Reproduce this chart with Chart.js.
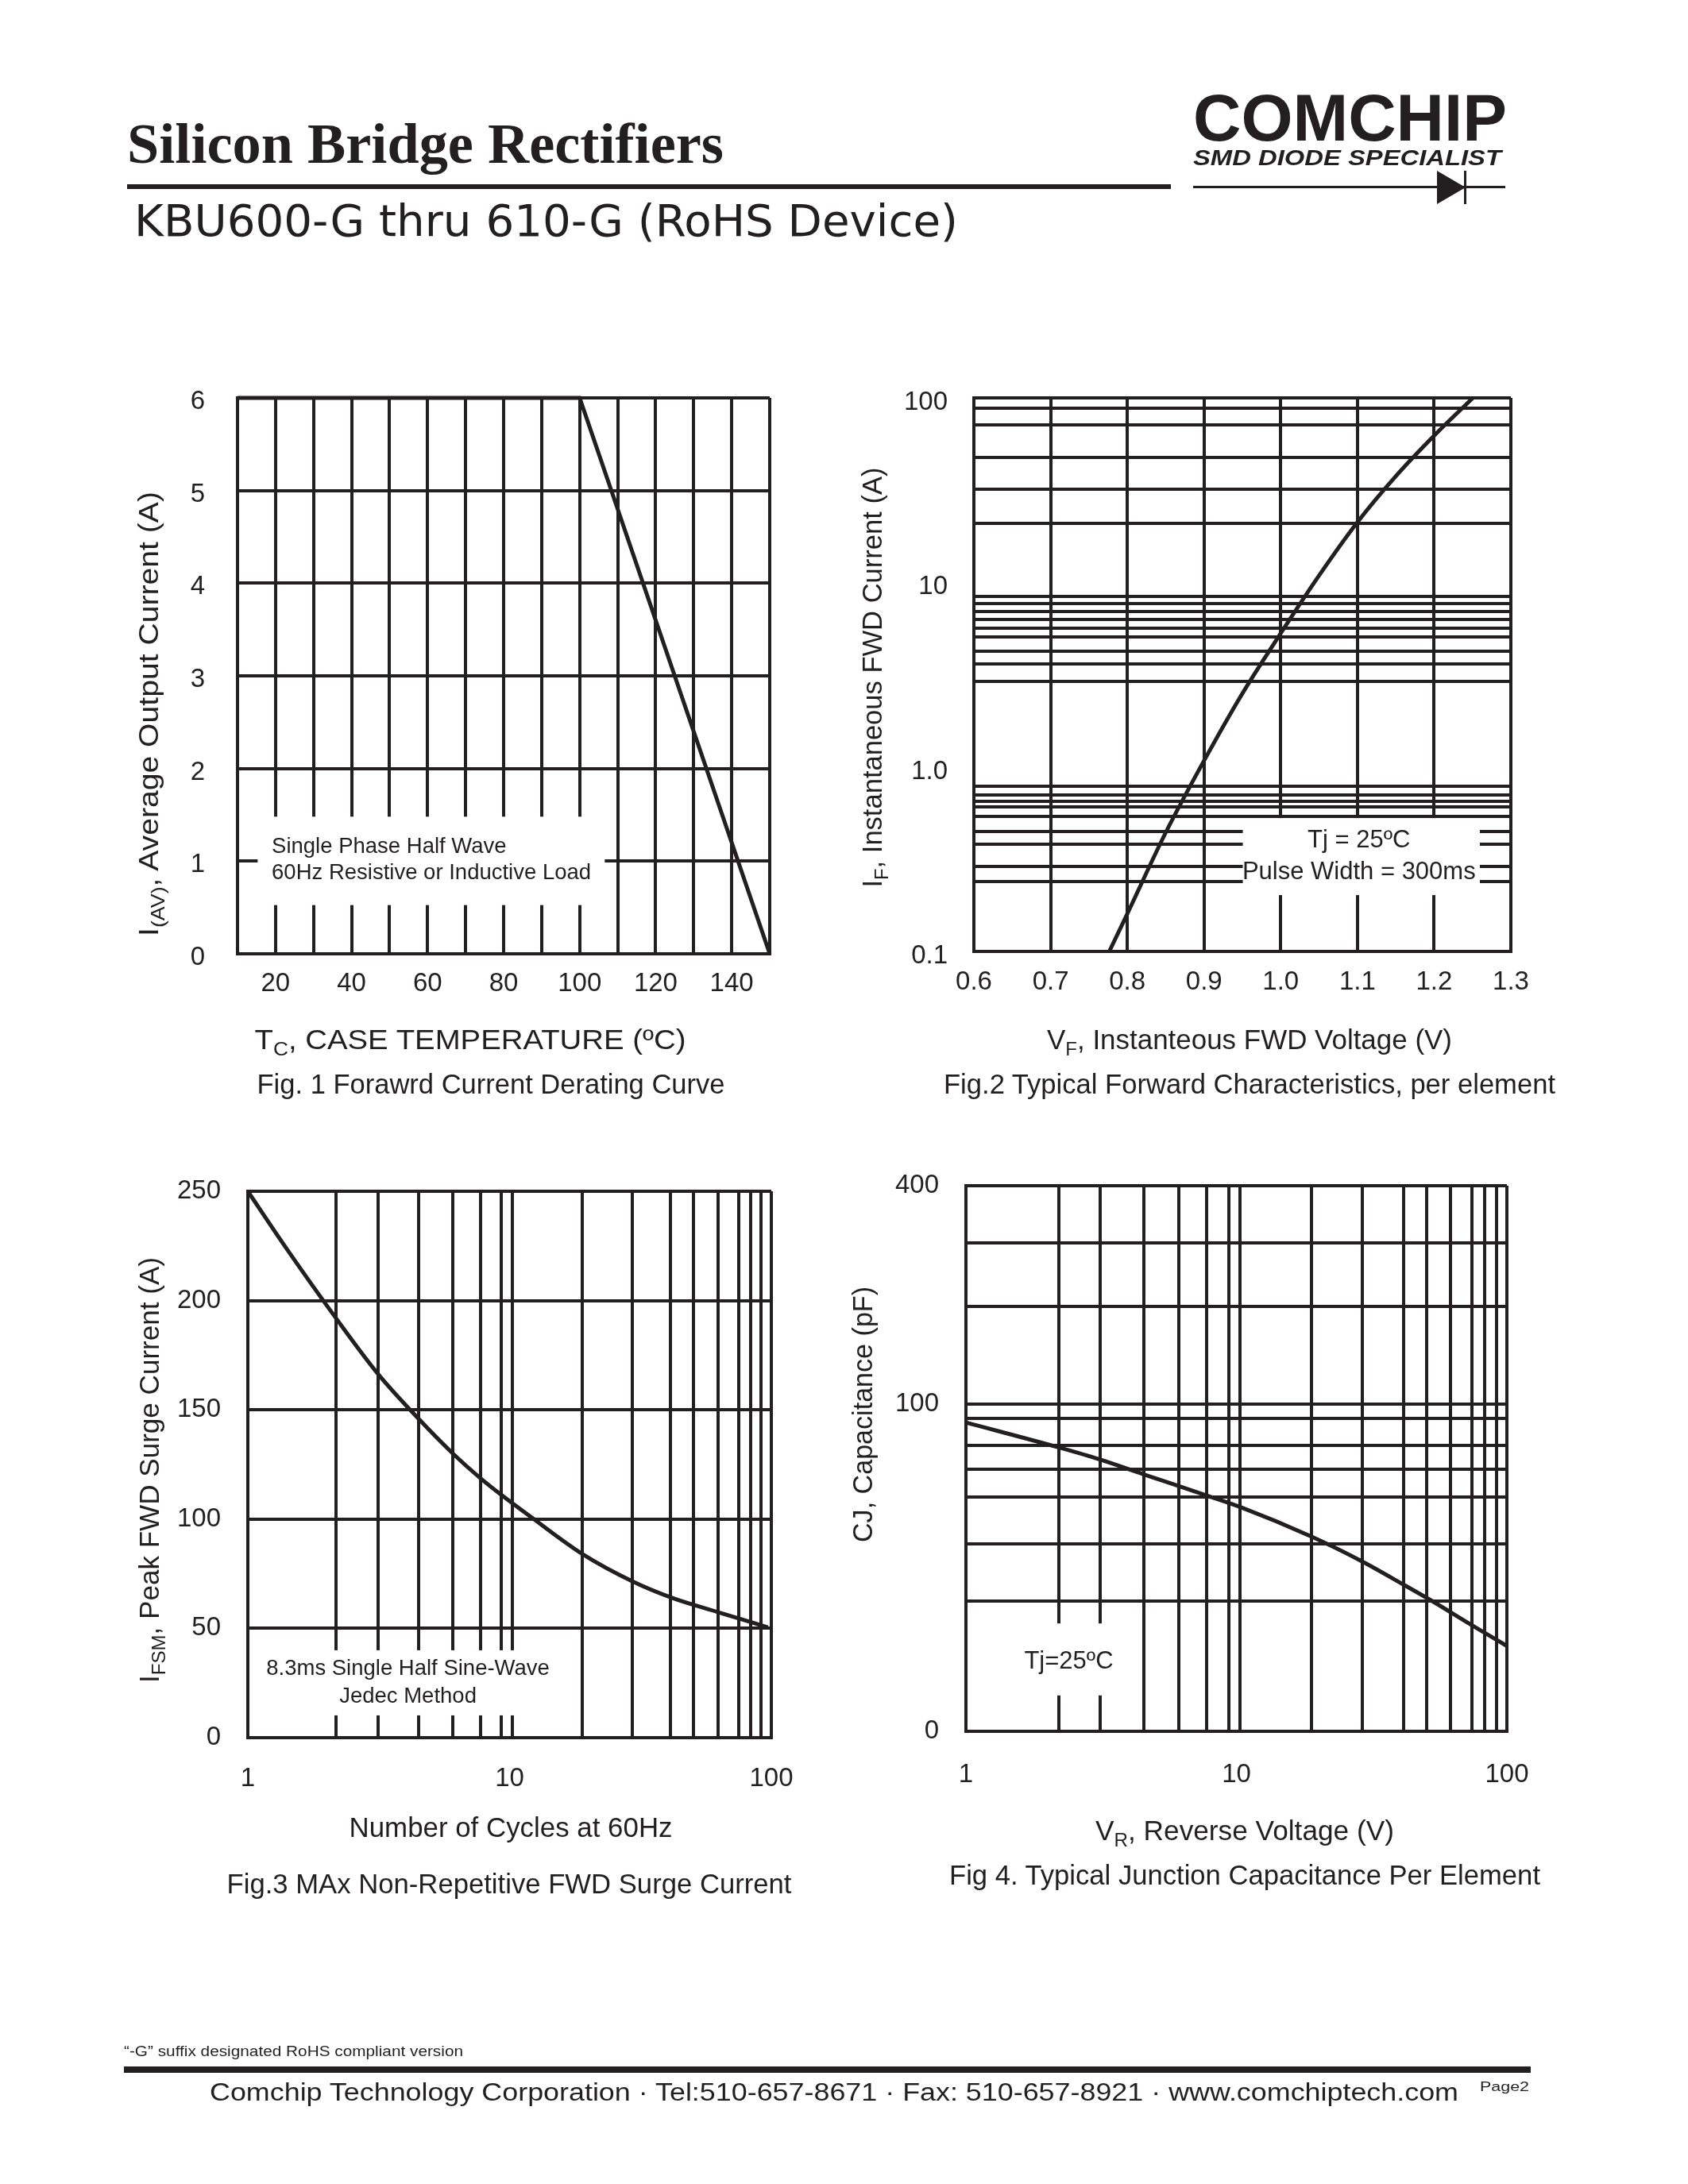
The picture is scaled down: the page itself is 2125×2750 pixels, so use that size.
<!DOCTYPE html>
<html>
<head>
<meta charset="utf-8">
<title>KBU600-G thru 610-G</title>
<script src="https://cdn.jsdelivr.net/npm/chart.js@4/dist/chart.umd.min.js"></script>
<style>
  body { margin: 0; background: #fff; }
  #page { position: relative; width: 2125px; height: 2750px; background: #fff; overflow: hidden; }
  .plot { position: absolute; }
  #ink { position: absolute; left: 0; top: 0; pointer-events: none; }
  #ink text { font-family: "Liberation Sans", Arial, sans-serif; fill: #231f20; }
</style>
</head>
<body>
<div id="page">
  <div class="plot" id="fig1"><canvas></canvas></div>
  <div class="plot" id="fig2"><canvas></canvas></div>
  <div class="plot" id="fig3"><canvas></canvas></div>
  <div class="plot" id="fig4"><canvas></canvas></div>

  <svg id="ink" width="2125" height="2750" fill="#231f20">
    <!-- header -->
    <text x="160" y="205" style="font-family:'Liberation Serif',serif" font-weight="bold" font-size="72" textLength="751" lengthAdjust="spacingAndGlyphs">Silicon Bridge Rectifiers</text>
    <rect x="160" y="232" width="1314" height="6"/>
    <text x="1502" y="177" font-weight="bold" font-size="84" textLength="395" lengthAdjust="spacingAndGlyphs">COMCHIP</text>
    <text x="1502" y="208" font-weight="bold" font-style="italic" font-size="28" textLength="388" lengthAdjust="spacingAndGlyphs">SMD DIODE SPECIALIST</text>
    <rect x="1502" y="234" width="393" height="3"/>
    <polygon points="1809,215 1845,236 1809,257"/>
    <rect x="1843" y="215" width="3" height="42"/>
    <text x="169" y="297" style="font-family:'DejaVu Sans',sans-serif" font-size="56" textLength="1037" lengthAdjust="spacingAndGlyphs">KBU600-G thru 610-G (RoHS Device)</text>

    <!-- fig 1 -->
    <text transform="translate(187,899) rotate(-90)" y="12" text-anchor="middle" font-size="35" textLength="560" lengthAdjust="spacingAndGlyphs">I<tspan font-size="24" dy="8">(AV)</tspan><tspan dy="-8">, Average Output Current (A)</tspan></text>
    <text x="592" y="1321" text-anchor="middle" font-size="35" textLength="543" lengthAdjust="spacingAndGlyphs">T<tspan font-size="24" dy="8">C</tspan><tspan dy="-8">, CASE TEMPERATURE (ºC)</tspan></text>
    <text x="618" y="1377" text-anchor="middle" font-size="35" textLength="589" lengthAdjust="spacingAndGlyphs">Fig. 1 Forawrd Current Derating Curve</text>

    <!-- fig 2 -->
    <text transform="translate(1098,853) rotate(-90)" y="12" text-anchor="middle" font-size="35" textLength="529" lengthAdjust="spacingAndGlyphs">I<tspan font-size="24" dy="8">F</tspan><tspan dy="-8">, Instantaneous FWD Current (A)</tspan></text>
    <text x="1573" y="1321" text-anchor="middle" font-size="35" textLength="510" lengthAdjust="spacingAndGlyphs">V<tspan font-size="24" dy="8">F</tspan><tspan dy="-8">, Instanteous FWD Voltage (V)</tspan></text>
    <text x="1573" y="1377" text-anchor="middle" font-size="35" textLength="770" lengthAdjust="spacingAndGlyphs">Fig.2 Typical Forward Characteristics, per element</text>

    <!-- fig 3 -->
    <text transform="translate(188,1851) rotate(-90)" y="12" text-anchor="middle" font-size="35" textLength="536" lengthAdjust="spacingAndGlyphs">I<tspan font-size="24" dy="8">FSM</tspan><tspan dy="-8">, Peak FWD Surge Current (A)</tspan></text>
    <text x="643" y="2313" text-anchor="middle" font-size="35" textLength="407" lengthAdjust="spacingAndGlyphs">Number of Cycles at 60Hz</text>
    <text x="641" y="2384" text-anchor="middle" font-size="35" textLength="711" lengthAdjust="spacingAndGlyphs">Fig.3 MAx Non-Repetitive FWD Surge Current</text>

    <!-- fig 4 -->
    <text transform="translate(1086,1781) rotate(-90)" y="12" text-anchor="middle" font-size="35" textLength="322" lengthAdjust="spacingAndGlyphs">CJ, Capacitance (pF)</text>
    <text x="1567" y="2317" text-anchor="middle" font-size="35" textLength="376" lengthAdjust="spacingAndGlyphs">V<tspan font-size="24" dy="8">R</tspan><tspan dy="-8">, Reverse Voltage (V)</tspan></text>
    <text x="1567" y="2373" text-anchor="middle" font-size="35" textLength="744" lengthAdjust="spacingAndGlyphs">Fig 4. Typical Junction Capacitance Per Element</text>

    <!-- footer -->
    <text x="156" y="2589" font-size="18" textLength="427" lengthAdjust="spacingAndGlyphs">“-G” suffix designated RoHS compliant version</text>
    <rect x="156" y="2602" width="1771" height="8"/>
    <text x="264" y="2645" font-size="31" textLength="1572" lengthAdjust="spacingAndGlyphs">Comchip Technology Corporation · Tel:510-657-8671 · Fax: 510-657-8921 · www.comchiptech.com</text>
    <text x="1863" y="2633" font-size="16" textLength="62" lengthAdjust="spacingAndGlyphs">Page2</text>
  </svg>
</div>

<script>
// ---- data ----
// Fig 1: derating
const fig1Temp = [10, 100, 150];
const fig1Current = [6, 6, 0];
const fig1GridX = [10, 20, 30, 40, 50, 60, 70, 80, 90, 100, 110, 120, 130, 140, 150];
const fig1LabelX = [20, 40, 60, 80, 100, 120, 140];
const fig1GridY = [0, 1, 2, 3, 4, 5, 6];

// Fig 2: forward characteristics (log current)
const fig2Voltage = [0.7765, 0.8, 0.85, 0.9, 0.95, 1.0, 1.05, 1.1, 1.15, 1.2, 1.25];
const fig2Current = [0.1, 0.16, 0.44, 1.08, 2.5, 5.3, 10.9, 21.2, 37.6, 62.4, 99.5];
const fig2GridX = [0.6, 0.7, 0.8, 0.9, 1.0, 1.1, 1.2, 1.3];
const fig2LabelX = ['0.6', '0.7', '0.8', '0.9', '1.0', '1.1', '1.2', '1.3'];
const fig2GridY = [0.1, 0.239, 0.29, 0.383, 0.446, 0.538, 0.61, 0.652, 0.704, 0.786,
  2.91, 3.6, 4.25, 5.08, 5.62, 6.29, 6.96, 7.69, 8.43, 20.8, 32.0, 47.7, 71.6, 87.7, 100];
const fig2TickY = [0.1, 1, 10, 100];
const fig2LabelY = ['0.1', '1.0', '10', '100'];

// Fig 3: surge current vs cycles
const fig3Cycles = [1, 1.365, 2.17, 3.14, 4.5, 6.05, 7.74, 9.32, 12.06, 19.0, 29.4, 41.3, 62.7, 97];
const fig3Surge = [250, 226, 192, 166.5, 145.8, 130.2, 118.7, 111, 101, 84, 71.6, 64.2, 57.4, 50.5];
const fig3GridX = [1, 2.17, 3.14, 4.5, 6.05, 7.74, 9.32, 10.25, 19.0, 29.4, 41.3, 50.4, 62.7, 75.2, 83.4, 91.6, 100];
const fig3GridY = [0, 50, 100, 150, 200, 250];

// Fig 4: junction capacitance
const fig4Voltage = [1, 2.2, 3.14, 4.55, 7.77, 10.3, 19, 29.3, 41.6, 52.5, 74.4, 100];
const fig4Cap = [88.9, 75.9, 70.2, 63.9, 55.9, 52.0, 43, 36.7, 31.7, 28.7, 24.5, 21.5];
const fig4GridX = [1, 2.2, 3.14, 4.55, 6.13, 7.77, 9.36, 10.28, 18.97, 29.3, 41.6, 50.5, 62.0, 74.4, 83, 91.4, 100];
const fig4GridY = [12.5, 28.6, 41.2, 55.3, 66, 77, 91.1, 100, 185.6, 278, 400];
const fig4TickY = [12.5, 100, 400];
const fig4LabelY = ['0', '100', '400'];

const cycleTicks = [1, 10, 100];
const cycleLabels = ['1', '10', '100'];

// ---- layout ----
const INK = '#231f20';
// generous top/right padding so the tick-label overflow never moves the plot area
const PAD = { left: 10, top: 90, right: 100, bottom: 10 };
const Y_AXIS_W = 120, X_AXIS_H = 90;

Chart.defaults.font.family = '"Liberation Sans", Arial, sans-serif';
Chart.defaults.color = INK;

// white panel with the test conditions, placed in data units
const noteBox = {
  id: 'noteBox',
  beforeDatasetsDraw(chart, args, opts) {
    if (!opts || !opts.lines) return;
    const { ctx } = chart;
    const x = chart.scales.x, y = chart.scales.y;
    const l = x.getPixelForValue(opts.boxX[0]), r = x.getPixelForValue(opts.boxX[1]);
    const t = y.getPixelForValue(opts.boxY[1]), b = y.getPixelForValue(opts.boxY[0]);
    ctx.save();
    ctx.fillStyle = '#fff';
    ctx.fillRect(l, t, r - l, b - t);
    ctx.fillStyle = INK;
    ctx.font = opts.textFont;
    ctx.textAlign = opts.align;
    ctx.textBaseline = 'middle';
    const tx = x.getPixelForValue(opts.textX);
    opts.lines.forEach((s, i) => ctx.fillText(s, tx, y.getPixelForValue(opts.textY[i])));
    ctx.restore();
  }
};

function axis(o) {
  const all = [...new Set([...o.grid, ...o.tickAt])].sort((a, b) => a - b);
  return {
    type: o.type, min: o.min, max: o.max, bounds: 'data',
    afterBuildTicks: s => { s.ticks = all.map(v => ({ value: v })); },
    afterFit: s => { if (o.vertical) s.width = Y_AXIS_W; else s.height = X_AXIS_H; },
    grid: {
      color: c => (c.tick && !o.grid.includes(c.tick.value)) ? 'rgba(0,0,0,0)' : INK,
      lineWidth: 4, drawTicks: false
    },
    border: { display: true, color: INK, width: 4 },
    ticks: {
      autoSkip: false, maxRotation: 0, minRotation: 0,
      padding: o.pad, labelOffset: o.offset || 0,
      color: INK, font: { size: 33 },
      callback: v => { const i = o.tickAt.indexOf(v); return i < 0 ? '' : o.tickText[i]; }
    }
  };
}

function plot(id, box, xAxis, yAxis, xs, ys, smooth, note) {
  const el = document.getElementById(id);
  el.style.left = (box[0] - PAD.left - Y_AXIS_W) + 'px';
  el.style.top = (box[1] - PAD.top) + 'px';
  el.style.width = (box[2] - box[0] + PAD.left + Y_AXIS_W + PAD.right) + 'px';
  el.style.height = (box[3] - box[1] + PAD.top + X_AXIS_H + PAD.bottom) + 'px';
  new Chart(el.querySelector('canvas'), {
    type: 'line',
    data: {
      datasets: [{
        data: xs.map((v, i) => ({ x: v, y: ys[i] })),
        borderColor: INK, borderWidth: 5, pointRadius: 0, fill: false, clip: false,
        tension: smooth ? 0.4 : 0,
        cubicInterpolationMode: smooth ? 'monotone' : 'default'
      }]
    },
    options: {
      responsive: true, maintainAspectRatio: false, animation: false,
      devicePixelRatio: 1, events: [],
      layout: { padding: PAD },
      scales: { x: xAxis, y: yAxis },
      plugins: { legend: { display: false }, tooltip: { enabled: false }, noteBox: note }
    },
    plugins: [noteBox]
  });
}

plot('fig1', [299, 501, 969, 1201],
  axis({ type: 'linear', min: 10, max: 150, grid: fig1GridX, tickAt: fig1LabelX, tickText: fig1LabelX.map(String), pad: 18 }),
  axis({ type: 'linear', min: 0, max: 6, grid: fig1GridY, tickAt: fig1GridY, tickText: fig1GridY.map(String), pad: 41, offset: 5, vertical: true }),
  fig1Temp, fig1Current, false,
  { boxX: [15.3, 106.6], boxY: [0.526, 1.48], textX: 19.0, textY: [1.157, 0.874], align: 'left',
    textFont: '27.5px "Liberation Sans", Arial, sans-serif',
    lines: ['Single Phase Half Wave', '60Hz Resistive or Inductive Load'] });

plot('fig2', [1226, 501, 1902, 1198],
  axis({ type: 'linear', min: 0.6, max: 1.3, grid: fig2GridX, tickAt: fig2GridX, tickText: fig2LabelX, pad: 19 }),
  axis({ type: 'logarithmic', min: 0.1, max: 100, grid: fig2GridY, tickAt: fig2TickY, tickText: fig2LabelY, pad: 33, offset: 6, vertical: true }),
  fig2Voltage, fig2Current, true,
  { boxX: [0.9506, 1.2596], boxY: [0.202, 0.528], textX: 1.102, textY: [0.40, 0.267], align: 'center',
    textFont: '31px "Liberation Sans", Arial, sans-serif',
    lines: ['Tj = 25ºC', 'Pulse Width = 300ms'] });

plot('fig3', [312, 1500, 971, 2188],
  axis({ type: 'logarithmic', min: 1, max: 100, grid: fig3GridX, tickAt: cycleTicks, tickText: cycleLabels, pad: 32 }),
  axis({ type: 'linear', min: 0, max: 250, grid: fig3GridY, tickAt: fig3GridY, tickText: fig3GridY.map(String), pad: 34, vertical: true }),
  fig3Cycles, fig3Surge, true,
  { boxX: [1.087, 15.5], boxY: [10.2, 40], textX: 4.09, textY: [31.3, 18.9], align: 'center',
    textFont: '27.5px "Liberation Sans", Arial, sans-serif',
    lines: ['8.3ms Single Half Sine-Wave', 'Jedec Method'] });

plot('fig4', [1216, 1493, 1897, 2180],
  axis({ type: 'logarithmic', min: 1, max: 100, grid: fig4GridX, tickAt: cycleTicks, tickText: cycleLabels, pad: 35 }),
  axis({ type: 'logarithmic', min: 12.5, max: 400, grid: fig4GridY, tickAt: fig4TickY, tickText: fig4LabelY, pad: 34, vertical: true }),
  fig4Voltage, fig4Cap, true,
  { boxX: [1.54, 3.9], boxY: [15.7, 24.8], textX: 2.40, textY: [19.4], align: 'center',
    textFont: '31px "Liberation Sans", Arial, sans-serif',
    lines: ['Tj=25ºC'] });
</script>
</body>
</html>
